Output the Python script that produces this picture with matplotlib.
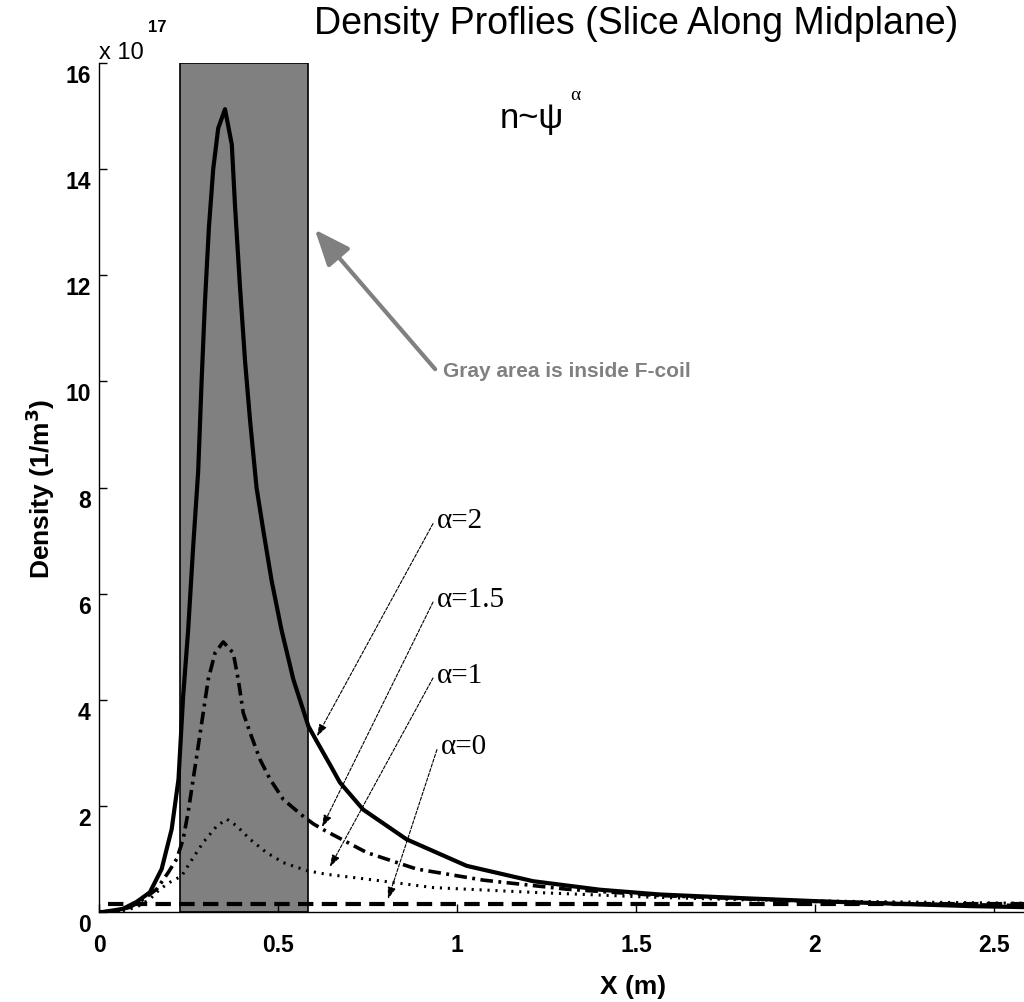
import matplotlib.pyplot as plt
import matplotlib.transforms as mtransforms

# Density profiles, units of 1e17 1/m^3
x_a2 = [0.0, 0.012, 0.067, 0.105, 0.142, 0.175, 0.203, 0.222, 0.235, 0.249, 0.263, 0.277,
        0.287, 0.296, 0.307, 0.319, 0.333, 0.352, 0.371, 0.380, 0.394, 0.408, 0.422, 0.440,
        0.459, 0.482, 0.510, 0.543, 0.585, 0.608, 0.645, 0.673, 0.738, 0.859, 1.027, 1.213,
        1.399, 1.567, 1.8, 2.02, 2.25, 2.44, 2.6, 2.8, 3.0]
n_a2 = [0.0, 0.0, 0.06, 0.19, 0.37, 0.81, 1.56, 2.50, 4.06, 5.31, 6.88, 8.3,
        10.07, 11.5, 12.9, 14.0, 14.77, 15.13, 14.46, 13.3, 11.76, 10.38, 9.26, 8.0,
        7.19, 6.25, 5.31, 4.38, 3.5, 3.22, 2.78, 2.44, 1.93, 1.37, 0.87, 0.58,
        0.42, 0.33, 0.26, 0.2, 0.15, 0.11, 0.09, 0.07, 0.06]

x_a15 = [0.0, 0.05, 0.087, 0.124, 0.161, 0.194, 0.217, 0.235, 0.249, 0.263, 0.277, 0.291,
         0.305, 0.324, 0.347, 0.375, 0.389, 0.403, 0.422, 0.450, 0.478, 0.515, 0.571, 0.599,
         0.627, 0.748, 0.887, 1.074, 1.306, 1.567, 1.8, 2.0, 2.3, 2.6, 3.0]
n_a15 = [0.0, 0.02, 0.09, 0.24, 0.43, 0.75, 1.0, 1.37, 1.88, 2.50, 3.12, 3.75,
         4.38, 4.88, 5.09, 4.88, 4.38, 3.75, 3.38, 2.87, 2.50, 2.12, 1.80, 1.66,
         1.55, 1.12, 0.81, 0.60, 0.43, 0.31, 0.25, 0.2, 0.15, 0.12, 0.09]

x_a1 = [0.0, 0.07, 0.105, 0.142, 0.170, 0.198, 0.231, 0.254, 0.291, 0.329, 0.357, 0.385,
        0.422, 0.468, 0.515, 0.580, 0.636, 0.748, 0.934, 1.213, 1.539, 1.8, 2.1, 2.5, 3.0]
n_a1 = [0.0, 0.03, 0.09, 0.24, 0.43, 0.56, 0.68, 0.93, 1.31, 1.62, 1.75, 1.62,
        1.37, 1.12, 0.93, 0.78, 0.71, 0.62, 0.46, 0.37, 0.28, 0.23, 0.2, 0.17, 0.15]

x_a0 = [0.025, 3.0]
n_a0 = [0.15, 0.15]

coil_x = [0.225, 0.585]  # gray F-coil region
x_ticks = [0, 0.5, 1, 1.5, 2, 2.5]
x_ticklabels = ['0', '0.5', '1', '1.5', '2', '2.5']
y_ticks = [0, 2, 4, 6, 8, 10, 12, 14, 16]

# label text, text position, arrow tip (data coords)
alpha_labels = ['\u03b1=2', '\u03b1=1.5', '\u03b1=1', '\u03b1=0']
label_xy = [(0.933, 7.32), (0.933, 5.84), (0.933, 4.41), (0.944, 3.06)]
tip_xy = [(0.609, 3.31), (0.623, 1.60), (0.645, 0.85), (0.807, 0.24)]

plt.rcParams['font.family'] = ['Liberation Sans', 'DejaVu Sans']

W, H = 1024, 1003
fig = plt.figure(figsize=(W / 100, H / 100), dpi=100)
ax = fig.add_axes([99 / W, 90 / H, 1074 / W, 849 / H])

ax.axvspan(coil_x[0], coil_x[1], facecolor='#808080', edgecolor='black', linewidth=1.2, zorder=1)

ax.plot(x_a2, n_a2, color='black', linewidth=3.0, zorder=3)
ax.plot(x_a15, n_a15, color='black', linewidth=2.6, linestyle=(0, (3.5, 1.5, 0.8, 1.5)), zorder=3)
ax.plot(x_a1, n_a1, color='black', linewidth=2.2, linestyle=(0, (0.7, 1.9)), zorder=3)
ax.plot(x_a0, n_a0, color='black', linewidth=3.0, linestyle=(0, (3.7, 2)), zorder=3)

ax.set_xlim(0, 3)
ax.set_ylim(0, 16)
ax.set_xticks(x_ticks)
ax.set_xticklabels(x_ticklabels)
ax.set_yticks(y_ticks)
ax.spines['top'].set_visible(False)
ax.spines['right'].set_visible(False)
for s in ['left', 'bottom']:
    ax.spines[s].set_linewidth(1.0)
ax.tick_params(direction='in', length=6, width=1, labelsize=16.5)
ax.tick_params(axis='x', pad=15)
ax.tick_params(axis='y', pad=6)
for lab in ax.get_xticklabels() + ax.get_yticklabels():
    lab.set_fontweight('bold')
offset = mtransforms.ScaledTranslation(0, -10 / 100, fig.dpi_scale_trans)
for lab in ax.get_yticklabels():
    lab.set_transform(lab.get_transform() + offset)

ax.set_xlabel('X (m)', fontsize=19, fontweight='bold')
ax.set_ylabel('Density (1/m$^\\mathbf{3}$)', fontsize=19, fontweight='bold', labelpad=6)
ax.xaxis.set_label_coords(534 / 1074, -62 / 849)

fig.text(636 / W, 1 - 24 / H, 'Density Proflies (Slice Along Midplane)', fontsize=27,
         ha='center', va='center')
fig.text(99 / W, 1 - 53 / H, 'x 10', fontsize=17, ha='left', va='center')
fig.text(148 / W, 1 - 28 / H, '17', fontsize=12, fontweight='bold', ha='left', va='center')

ax.text(1.12, 14.98, 'n~\u03c8', fontsize=25, ha='left', va='center')
ax.text(1.315, 15.4, '\u03b1', fontsize=14, family='Liberation Serif', ha='left', va='center')

ax.annotate('', xy=(0.603, 12.86), xytext=(0.939, 10.23),
            arrowprops=dict(arrowstyle='-|>,head_length=1.1,head_width=0.45', color='#808080',
                            lw=3, mutation_scale=20, shrinkA=0, shrinkB=0))
ax.text(0.96, 10.2, 'Gray area is inside F-coil', fontsize=15, fontweight='bold',
        color='#808080', ha='left', va='center')

for lab, pos, tip in zip(alpha_labels, label_xy, tip_xy):
    ax.annotate('', xy=tip, xytext=pos,
                arrowprops=dict(arrowstyle='-|>,head_length=0.6,head_width=0.2', color='black',
                                lw=0.8, linestyle=(0, (3, 1.5)), shrinkA=0, shrinkB=0,
                                mutation_scale=12))
    ax.text(pos[0] + 0.01, pos[1] + 0.06, lab, fontsize=21, family='Liberation Serif',
            ha='left', va='center')

fig.savefig('out.png', dpi=100)
